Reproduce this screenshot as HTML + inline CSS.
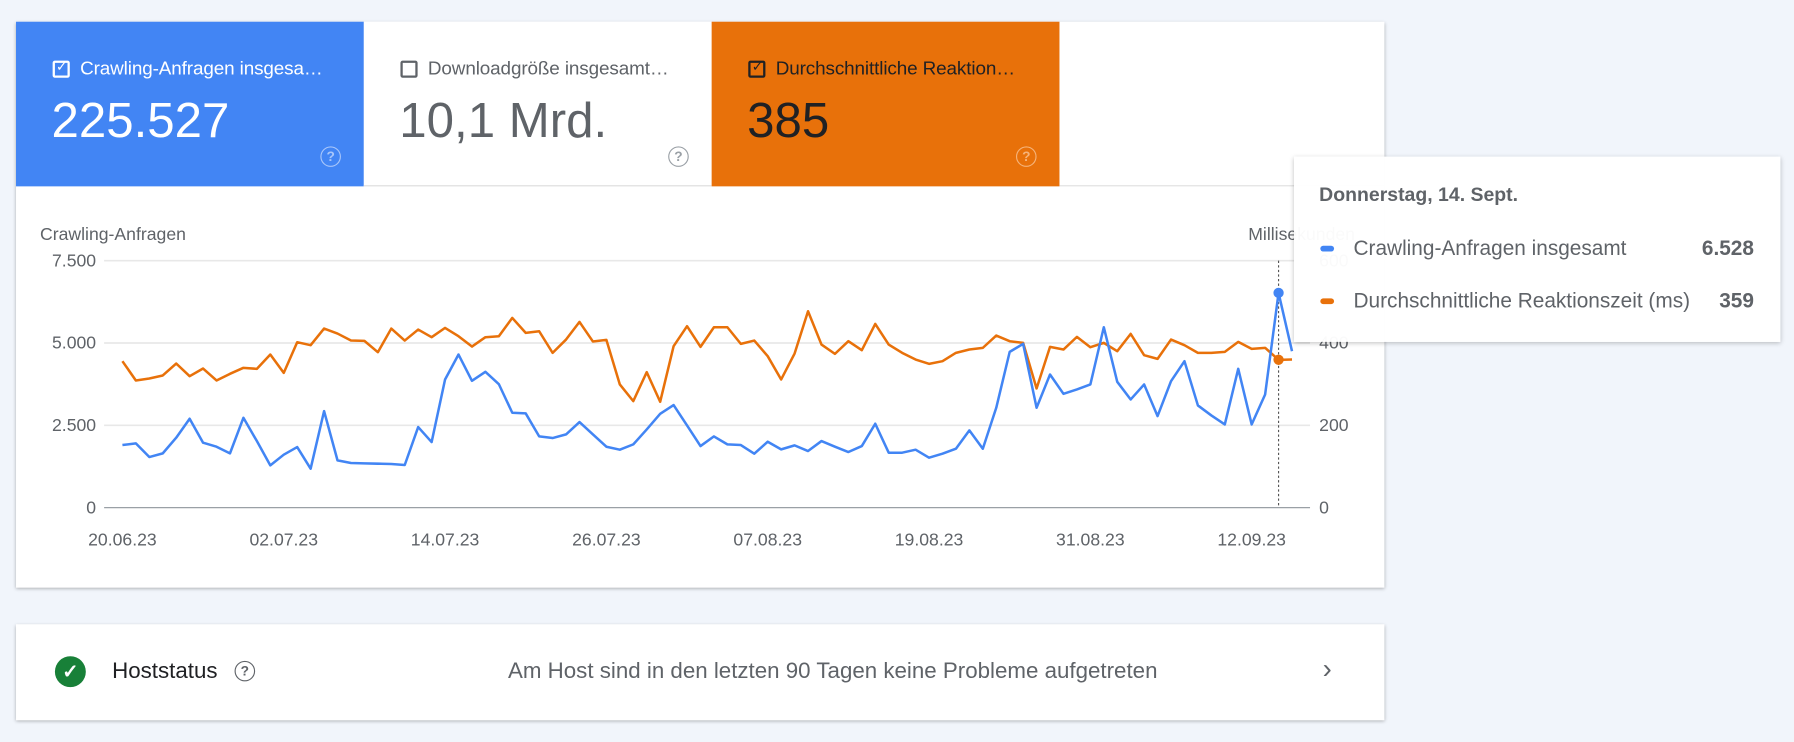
<!DOCTYPE html>
<html><head><meta charset="utf-8"><style>
html,body{margin:0;padding:0;background:#f1f5fb;overflow:hidden}
#w{width:1568px;height:649px;transform:scale(1.14413,1.1433);transform-origin:0 0;position:relative;font-family:"Liberation Sans",Arial,sans-serif}
.card{position:absolute;background:#fff;box-shadow:0 1px 3px rgba(0,0,0,.3)}
.tile{position:absolute;top:0;height:144px;width:304px}
.tt{position:absolute;left:32px;top:32px;font-size:16.5px;white-space:nowrap;letter-spacing:-0.1px}
.cb{display:inline-block;border:2px solid;border-radius:2px;vertical-align:-3px;margin-right:9px;box-sizing:border-box;position:relative;width:15px;height:15px}
.big{position:absolute;left:31px;top:63px;font-size:43px}
.q{position:absolute;left:266px;top:109px;width:16px;height:16px;border:1.6px solid;border-radius:50%;font-size:12px;text-align:center;line-height:16px;font-weight:bold}
</style></head><body><div id="w">
<div class="card" style="left:14px;top:19px;width:1196px;height:495px">
 <div class="tile" style="left:0;background:#4285f4;color:#fff"><div class="tt"><span class="cb" style="border-color:#fff"><span style="position:absolute;left:1px;top:-4px;font-size:12px">✓</span></span>Crawling-Anfragen insgesa…</div><div class="big">225.527</div><div class="q" style="border-color:#a8c6fa;color:#a8c6fa">?</div></div>
 <div class="tile" style="left:304px;background:#fff;color:#5f6368;border-bottom:1px solid #ddd;height:143px"><div class="tt"><span class="cb" style="border-color:#5f6368"></span>Downloadgröße insgesamt…</div><div class="big">10,1 Mrd.</div><div class="q" style="border-color:#9aa0a6;color:#9aa0a6">?</div></div>
 <div class="tile" style="left:608px;background:#e8710a;color:#202124"><div class="tt"><span class="cb" style="border-color:#202124"><span style="position:absolute;left:1px;top:-4px;font-size:12px">✓</span></span>Durchschnittliche Reaktion…</div><div class="big">385</div><div class="q" style="border-color:#f5b37a;color:#f5b37a">?</div></div>
 <div style="position:absolute;left:912px;top:143px;width:284px;border-top:1px solid #e0e0e0"></div>
</div>
<svg style="position:absolute;left:0;top:0" width="1568" height="649" font-family="Liberation Sans, Arial, sans-serif">
 <text x="35" y="210" font-size="15.4" fill="#5f6368">Crawling-Anfragen</text>
 <text x="1091" y="210" font-size="15.4" fill="#5f6368">Millisekunden</text>
 <g stroke="#e8e8e8" stroke-width="1.5"><line x1="91" x2="1145" y1="228" y2="228"/><line x1="91" x2="1145" y1="300" y2="300"/><line x1="91" x2="1145" y1="372" y2="372"/></g>
 <line x1="91" x2="1145" y1="444" y2="444" stroke="#9aa0a6" stroke-width="1.2"/>
 <g font-size="15.4" fill="#5f6368" text-anchor="end"><text x="84" y="233">7.500</text><text x="84" y="305">5.000</text><text x="84" y="377">2.500</text><text x="84" y="449">0</text></g>
 <g font-size="15.4" fill="#5f6368"><text x="1153" y="233">600</text><text x="1153" y="305">400</text><text x="1153" y="377">200</text><text x="1153" y="449">0</text></g>
 <g font-size="15.4" fill="#5f6368" text-anchor="middle"><text x="107" y="477">20.06.23</text><text x="248" y="477">02.07.23</text><text x="389" y="477">14.07.23</text><text x="530" y="477">26.07.23</text><text x="671" y="477">07.08.23</text><text x="812" y="477">19.08.23</text><text x="953" y="477">31.08.23</text><text x="1094" y="477">12.09.23</text></g>
 <line x1="1117.5" x2="1117.5" y1="228" y2="444" stroke="#555" stroke-width="1" stroke-dasharray="2,2"/>
 <g transform="translate(107 157.26) scale(11.75 0.2911)" fill="none" stroke-width="2.2" stroke-linejoin="round">
  <polyline vector-effect="non-scaling-stroke" stroke="#e8710a" points="0,545 1,603 2,597 3,588 4,552 5,590 6,567 7,603 8,583 9,565 10,568 11,525 12,580 13,488 14,497 15,447 16,462 17,483 18,484 19,518 20,447 21,483 22,450 23,473 24,445 25,470 26,501 27,473 28,470 29,415 30,460 31,455 32,520 33,480 34,427 35,486 36,481 37,615 38,665 39,578 40,667 41,500 42,440 43,502 44,443 45,443 46,493 47,483 48,530 49,600 50,522 51,395 52,495 53,523 54,485 55,512 56,433 57,495 58,520 59,540 60,553 61,545 62,520 63,510 64,505 65,468 66,485 67,490 68,627 69,502 70,510 71,472 72,503 73,490 74,515 75,463 76,527 77,538 78,480 79,497 80,520 81,520 82,517 83,487 84,508 85,505 86,541 87,540"/>
  <polyline vector-effect="non-scaling-stroke" stroke="#4285f4" points="0,797 1,792 2,833 3,822 4,775 5,718 6,790 7,802 8,822 9,715 10,785 11,858 12,826 13,803 14,868 15,695 16,843 17,851 18,852 19,853 20,854 21,857 22,743 23,788 24,600 25,525 26,604 27,577 28,614 29,700 30,702 31,771 32,776 33,765 34,728 35,765 36,802 37,811 38,795 39,750 40,703 41,677 42,738 43,800 44,771 45,795 46,797 47,823 48,787 49,810 50,798 51,815 52,785 53,802 54,818 55,800 56,733 57,820 58,820 59,811 60,835 61,823 62,808 63,753 64,808 65,685 66,517 67,493 68,685 69,585 70,643 71,630 72,615 73,443 74,607 75,660 76,615 77,710 78,605 79,545 80,678 81,708 82,735 83,568 84,735 85,645 86,340 87,515"/>
 </g>
 <circle cx="1117.5" cy="256.2" r="4.5" fill="#4285f4"/>
 <circle cx="1117.5" cy="314.7" r="4.5" fill="#e8710a"/>
</svg>
<div class="card" style="left:1131px;top:137px;width:425px;height:162px;box-shadow:0 1px 4px rgba(0,0,0,.25);background:rgba(255,255,255,.97)">
 <div style="position:absolute;left:22px;top:24px;font-size:17px;font-weight:bold;color:#5f6368">Donnerstag, 14. Sept.</div>
 <div style="position:absolute;left:23px;top:78px;width:12px;height:5px;border-radius:3px;background:#4285f4"></div>
 <div style="position:absolute;left:52px;top:70px;font-size:18.2px;color:#5f6368">Crawling-Anfragen insgesamt</div>
 <div style="position:absolute;right:23px;top:70px;font-size:18.2px;font-weight:bold;color:#5f6368">6.528</div>
 <div style="position:absolute;left:23px;top:124px;width:12px;height:5px;border-radius:3px;background:#e8710a"></div>
 <div style="position:absolute;left:52px;top:116px;font-size:18.2px;color:#5f6368">Durchschnittliche Reaktionszeit (ms)</div>
 <div style="position:absolute;right:23px;top:116px;font-size:18.2px;font-weight:bold;color:#5f6368">359</div>
</div>
<div class="card" style="left:14px;top:546px;width:1196px;height:84px">
 <div style="position:absolute;left:34px;top:28px;width:27px;height:27px;border-radius:50%;background:#188038;color:#fff;text-align:center;line-height:27px;font-size:17px;font-weight:bold">✓</div>
 <div style="position:absolute;left:84px;top:30px;font-size:19.5px;color:#202124">Hoststatus</div>
 <div style="position:absolute;left:191px;top:32px;width:16px;height:16px;border:1.6px solid #5f6368;border-radius:50%;font-size:12px;text-align:center;line-height:16px;font-weight:bold;color:#5f6368">?</div>
 <div style="position:absolute;left:430px;top:30px;font-size:19.5px;color:#5f6368">Am Host sind in den letzten 90 Tagen keine Probleme aufgetreten</div>
 <div style="position:absolute;left:1142px;top:26px;font-size:24px;color:#5f6368">›</div>
</div>
</div></body></html>
